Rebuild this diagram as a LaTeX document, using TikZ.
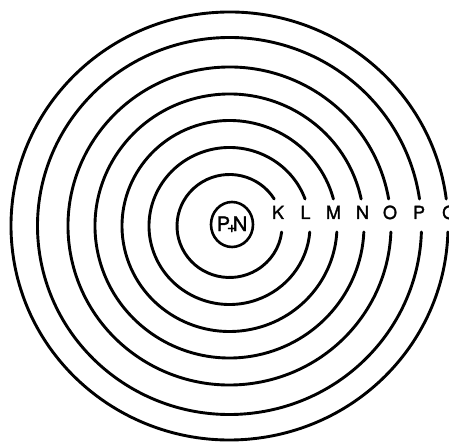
\documentclass[tikz,border=0pt]{standalone}
\usepackage{fontspec}
\setmainfont{TeX Gyre Heros}
\newfontfamily\labfont[FakeBold=1.6]{TeX Gyre Heros}
\begin{document}
\begin{tikzpicture}[x=1pt,y=1pt,
  ring/.style={line width=2.9pt, line cap=round},
  shell/.style={font=\labfont\fontsize{18}{18}\selectfont, inner sep=0pt, anchor=base},
  nuc/.style={font=\labfont\fontsize{20}{20}\selectfont, inner sep=0pt}]
\useasboundingbox (0,0) rectangle (449,441);
\fill[white] (0,0) rectangle (449,441);
\coordinate (c) at (229.5,215);
\foreach \rx/\ry in {52.5/51.5, 80.5/78.5, 107.5/105.5, 134.5/132, 161.5/159, 192/188.5, 218.5/214}{
  \pgfmathsetmacro\a{asin(27/\ry)}
  \pgfmathsetmacro\b{360-asin(6/\ry)}
  \draw[ring] (c) ++(\a:\rx pt and \ry pt) arc[start angle=\a, end angle=\b, x radius=\rx pt, y radius=\ry pt];
}
% nucleus
\coordinate (nc) at (232,216.5);
\draw[ring, line width=2.6pt] (nc) ellipse[x radius=21pt, y radius=22.5pt];
\node[nuc] (pn) at (nc) {P\kern-3pt\raisebox{-1.5pt}{\fontsize{16}{16}\selectfont +}\kern-3.5pt N};
% shell labels
\node[shell] (k) at (278,222) {K};
\node[shell] (l) at (305.5,222) {L};
\node[shell] (m) at (333.5,222) {M};
\node[shell] (n) at (362.5,222) {N};
\node[shell] (o) at (390,222) {O};
\node[shell] (p) at (419,222) {P};
\node[shell, anchor=base west] (q) at (442,222) {Q};
\end{tikzpicture}
\end{document}
